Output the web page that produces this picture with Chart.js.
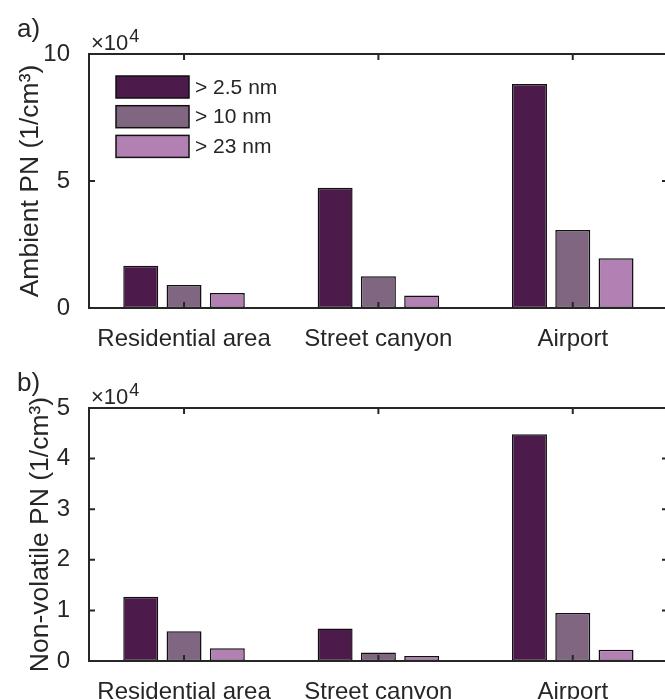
<!DOCTYPE html>
<html>
<head>
<meta charset="utf-8">
<script src="https://cdn.jsdelivr.net/npm/chart.js@4/dist/chart.umd.min.js"></script>
<style>
  html, body { margin: 0; padding: 0; background: #fff; overflow: hidden; }
  #wrap { position: relative; width: 665px; height: 699px; overflow: hidden; }
  canvas { position: absolute; left: 0; }
</style>
</head>
<body>
<div id="wrap">
  <canvas id="chartA" width="672" height="354" style="top:0"></canvas>
  <canvas id="chartB" width="672" height="345" style="top:354px"></canvas>
</div>
<script>
// Particle number by site (1/cm3)
const sites = ['Residential area', 'Street canyon', 'Airport'];
const sizeLabels = ['> 2.5 nm', '> 10 nm', '> 23 nm'];
const barColors = ['#4c1b4c', '#806680', '#b380b3'];

// a) ambient PN
const ambient25 = [16600, 47300, 88200];
const ambient10 = [9100, 12500, 30700];
const ambient23 = [5900, 4900, 19600];

// b) non-volatile PN
const nonvol25 = [12700, 6400, 44800];
const nonvol10 = [5900, 1700, 9500];
const nonvol23 = [2500, 1000, 2200];

const ambientTicks = [0, 50000, 100000];
const nonvolTicks = [0, 10000, 20000, 30000, 40000, 50000];

const FONT = "'Liberation Sans', Arial, Helvetica, sans-serif";
const INK = '#262626';

// MATLAB-style box with inward ticks, ×10^4 multiplier, panel letter and legend
const matlabAxes = {
  id: 'matlabAxes',
  afterDatasetsDraw(chart, args, opts) {
    const { ctx, chartArea: a } = chart;
    const xs = chart.scales.x, ys = chart.scales.y;
    const tl = 6;
    ctx.save();
    ctx.strokeStyle = INK;
    ctx.lineWidth = 2;
    ctx.strokeRect(a.left, a.top, a.right - a.left, a.bottom - a.top);
    ctx.beginPath();
    xs.ticks.forEach(t => {
      const px = xs.getPixelForValue(t.value);
      ctx.moveTo(px, a.bottom); ctx.lineTo(px, a.bottom - tl);
      ctx.moveTo(px, a.top); ctx.lineTo(px, a.top + tl);
    });
    ys.ticks.forEach(t => {
      const py = ys.getPixelForValue(t.value);
      ctx.moveTo(a.left, py); ctx.lineTo(a.left + tl, py);
      ctx.moveTo(a.right, py); ctx.lineTo(a.right - tl, py);
    });
    ctx.stroke();
    ctx.restore();
  },
  afterDraw(chart, args, opts) {
    const { ctx, chartArea: a } = chart;
    ctx.save();
    ctx.fillStyle = INK;
    ctx.textBaseline = 'alphabetic';
    ctx.textAlign = 'left';
    // panel letter
    ctx.font = '26px ' + FONT;
    ctx.fillText(opts.panel, 17, 37);
    // exponent
    ctx.font = '22px ' + FONT;
    ctx.fillText('\u00d710', a.left + 2, a.top - 4);
    const w = ctx.measureText('\u00d710').width;
    ctx.font = '18px ' + FONT;
    ctx.fillText('4', a.left + 3 + w, a.top - 12);
    // legend
    if (opts.legend) {
      ctx.font = '21px ' + FONT;
      ctx.textBaseline = 'middle';
      chart.data.datasets.forEach((ds, i) => {
        const y = 76 + i * 29.7;
        ctx.fillStyle = ds.backgroundColor;
        ctx.fillRect(116, y, 73, 22);
        ctx.strokeStyle = '#111';
        ctx.lineWidth = 1.5;
        ctx.strokeRect(116, y, 73, 22);
        ctx.fillStyle = INK;
        ctx.fillText(ds.label, 195, y + 12);
      });
    }
    ctx.restore();
  }
};

function makeDatasets(series) {
  return series.map((vals, i) => ({
    label: sizeLabels[i],
    data: vals.map((v, j) => ({ x: j + 1, y: v })),
    backgroundColor: barColors[i],
    borderColor: '#111111',
    borderWidth: 1.5,
    borderSkipped: false,
    categoryPercentage: 0.668,
    barPercentage: 0.808
  }));
}

function drawPanel(id, series, yTicks, yTitle, titlePad, xHeight, panel, legend) {
  const ctx = document.getElementById(id).getContext('2d');
  return new Chart(ctx, {
    type: 'bar',
    data: { datasets: makeDatasets(series) },
    options: {
      responsive: false,
      animation: false,
      devicePixelRatio: 1,
      layout: { padding: { top: 54, right: 4, left: 0, bottom: 0 } },
      plugins: {
        legend: { display: false },
        tooltip: { enabled: false },
        matlabAxes: { panel: panel, legend: legend }
      },
      scales: {
        x: {
          type: 'linear',
          min: 0.511,
          max: 3.49,
          offset: false,
          grid: { display: false },
          border: { display: false },
          afterBuildTicks: s => { s.ticks = sites.map((_, i) => ({ value: i + 1 })); },
          afterFit: s => { s.height = xHeight; },
          ticks: {
            autoSkip: false,
            maxRotation: 0,
            padding: 9,
            color: INK,
            font: { family: FONT, size: 24 },
            callback: v => sites[v - 1]
          }
        },
        y: {
          min: yTicks[0],
          max: yTicks[yTicks.length - 1],
          grid: { display: false },
          border: { display: false },
          afterBuildTicks: s => { s.ticks = yTicks.map(v => ({ value: v })); },
          afterFit: s => { s.width = 89; },
          ticks: {
            padding: 11,
            color: INK,
            font: { family: FONT, size: 24 },
            callback: v => String(v / 10000)
          },
          title: {
            display: true,
            text: yTitle,
            color: INK,
            font: { family: FONT, size: 26.5 },
            padding: { top: titlePad, bottom: 0 }
          }
        }
      }
    },
    plugins: [matlabAxes]
  });
}

drawPanel('chartA', [ambient25, ambient10, ambient23], ambientTicks,
  'Ambient PN (1/cm\u00b3)', 14.5, 46, 'a)', true);
drawPanel('chartB', [nonvol25, nonvol10, nonvol23], nonvolTicks,
  'Non-volatile PN (1/cm\u00b3)', 25, 38, 'b)', false);
</script>
</body>
</html>
